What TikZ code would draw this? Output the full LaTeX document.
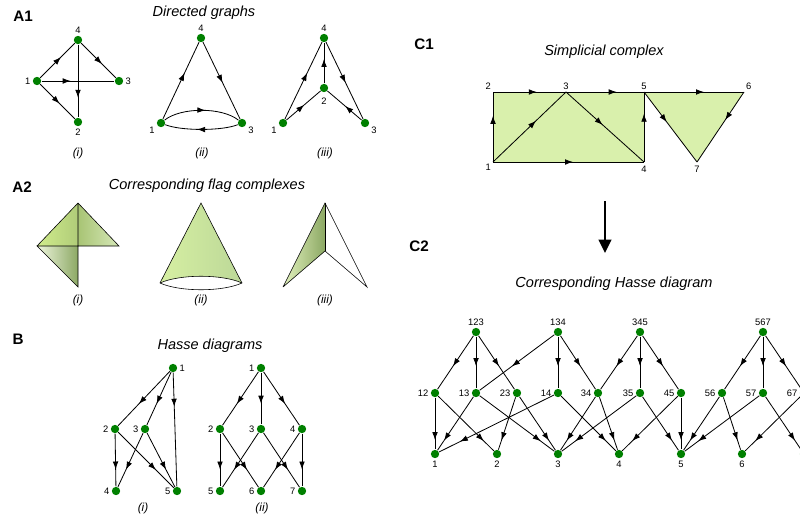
\documentclass[tikz,border=0pt]{standalone}
\usepackage{fontspec}
\setmainfont{Liberation Sans}
\usetikzlibrary{arrows.meta,decorations.markings}

\definecolor{dotgreen}{RGB}{0,128,0}
\definecolor{cplxfill}{RGB}{217,240,172}
\definecolor{flaglime}{RGB}{208,236,140}
\definecolor{flagmid}{RGB}{168,196,116}
\definecolor{flaglight}{RGB}{214,232,184}
\definecolor{flagpale}{RGB}{238,246,222}
\definecolor{flagdark}{RGB}{140,168,100}
\definecolor{conel}{RGB}{214,239,162}
\definecolor{conem}{RGB}{232,245,204}
\definecolor{coner}{RGB}{188,216,152}

\tikzset{
  vtx/.style={circle, fill=dotgreen, inner sep=0pt, minimum size=2.5mm},
  ar/.style={postaction={decorate}, decoration={markings,
      mark=at position #1 with {\arrow{Latex[length=2.4mm,width=1.7mm]}}}},
  ar/.default=0.6,
  heading/.style={font=\fontsize{12.4}{15}\selectfont\itshape},
  case/.style={font=\fontsize{10}{12}\selectfont\itshape},
  panel/.style={font=\fontsize{13}{15}\selectfont\bfseries},
  face/.style={line width=0.5pt},
}

\begin{document}
\begin{tikzpicture}[x=0.3mm, y=-0.3mm, line width=0.7pt,
    every label/.style={font=\fontsize{8}{9}\selectfont, inner sep=1.5pt}]
  \useasboundingbox (0,0) rectangle (800,517);
  \clip (0,0) rectangle (800,517);

  % panel letters
  \node[panel] (la1) at (23,16) {A1};
  \node[panel] (la2) at (22,187) {A2};
  \node[panel] (lb) at (18,339) {B};
  \node[panel] (lc1) at (424,44) {C1};
  \node[panel] (lc2) at (419,246) {C2};

  % directed graphs
  \node[heading] (hdg) at (204,13) {Directed graphs};

  \node[vtx, label=above:4] (p4) at (78,40) {};
  \node[vtx, label=left:1] (p1) at (37,81) {};
  \node[vtx, label=right:3] (p3) at (119,81) {};
  \node[vtx, label=below:2] (p2) at (78,122) {};
  \draw[ar] (p1) -- (p4);
  \draw[ar] (p4) -- (p3);
  \draw[ar=0.4] (p1) -- (p3);
  \draw[ar=0.73] (p4) -- (p2);
  \draw[ar=0.56] (p1) -- (p2);

  \node[vtx, label=above:4] (q4) at (201,38) {};
  \node[vtx, label=-160:1] (q1) at (161,123) {};
  \node[vtx, label=-20:3] (q3) at (242,123) {};
  \draw[ar] (q1) -- (q4);
  \draw[ar=0.53] (q4) -- (q3);
  \draw[ar=0.55] (q1) .. controls +(20,-16) and +(-20,-16) .. (q3);
  \draw[ar=0.56] (q3) .. controls +(-20,8) and +(20,8) .. (q1);

  \node[vtx, label=above:4] (r4) at (324,38) {};
  \node[vtx, label={[label distance=3pt]below:2}] (r2) at (324,88) {};
  \node[vtx, label=-160:1] (r1) at (283,123) {};
  \node[vtx, label=-20:3] (r3) at (365,123) {};
  \draw[ar] (r1) -- (r4);
  \draw[ar=0.53] (r4) -- (r3);
  \draw[ar] (r2) -- (r4);
  \draw[ar=0.52] (r1) -- (r2);
  \draw[ar=0.48] (r3) -- (r2);

  \node[case] (ca1) at (78,153) {(i)};
  \node[case] (ca2) at (202,153) {(ii)};
  \node[case] (ca3) at (325,153) {(iii)};

  % flag complexes
  \node[heading] (hfl) at (207,186) {Corresponding flag complexes};

  \coordinate (f1) at (37,246);
  \coordinate (f4) at (78,203);
  \coordinate (f3) at (119,246);
  \coordinate (f2) at (78,287);
  \coordinate (fm) at (78,246);
  \shade[left color=flagpale, right color=flagdark] (f1) -- (fm) -- (f2) -- cycle;
  \shade[left color=flaglime, right color=flagmid!80!flaglime] (f1) -- (f4) -- (fm) -- cycle;
  \shade[left color=flagmid, right color=flaglight] (f4) -- (f3) -- (fm) -- cycle;
  \draw[face] (f1) -- (f4) -- (f3) -- (f1) -- (f2) -- (f4);

  \coordinate (n4) at (201,203);
  \coordinate (n1) at (160,283);
  \coordinate (n3) at (242,283);
  \shade[left color=conel, middle color=conem, right color=coner]
    (n4) -- (n1) .. controls +(20,-9) and +(-20,-9) .. (n3) -- cycle;
  \draw[face] (n1) -- (n4) -- (n3);
  \draw[face] (n1) .. controls +(20,-9) and +(-20,-9) .. (n3);
  \draw[face] (n1) .. controls +(20,9) and +(-20,9) .. (n3);

  \coordinate (t4) at (325,203);
  \coordinate (t2) at (325,251);
  \coordinate (t1) at (283,287);
  \coordinate (t3) at (367,287);
  \shade[left color=flagpale!60!flaglime, right color=flagdark] (t4) -- (t2) -- (t1) -- cycle;
  \draw[face] (t1) -- (t4) -- (t3) -- (t2) -- (t1);
  \draw[face] (t4) -- (t2);

  \node[case] (cb1) at (78,300) {(i)};
  \node[case] (cb2) at (201,300) {(ii)};
  \node[case] (cb3) at (325,300) {(iii)};

  % Hasse diagrams
  \node[heading] (hhs) at (210,346) {Hasse diagrams};

  \node[vtx, label=right:1] (u1) at (173,368) {};
  \node[vtx, label=left:2] (u2) at (115,429) {};
  \node[vtx, label=left:3] (u3) at (145,429) {};
  \node[vtx, label=left:4] (u4) at (116,491) {};
  \node[vtx, label=left:5] (u5) at (177,491) {};
  \draw[ar] (u1) -- (u2);
  \draw[ar] (u1) -- (u3);
  \draw[ar=0.3] (u1) -- (u5);
  \draw[ar=0.68] (u2) -- (u4);
  \draw[ar=0.68] (u2) -- (u5);
  \draw[ar=0.68] (u3) -- (u4);
  \draw[ar=0.68] (u3) -- (u5);

  \node[vtx, label=left:1] (w1) at (261,368) {};
  \node[vtx, label=left:2] (w2) at (220,429) {};
  \node[vtx, label=left:3] (w3) at (261,429) {};
  \node[vtx, label=left:4] (w4) at (302,429) {};
  \node[vtx, label=left:5] (w5) at (220,491) {};
  \node[vtx, label=left:6] (w6) at (261,491) {};
  \node[vtx, label=left:7] (w7) at (302,491) {};
  \foreach \a/\b in {1/2,1/3,1/4}
    \draw[ar] (w\a) -- (w\b);
  \foreach \a/\b in {2/5,2/6,3/5,3/7,4/6,4/7}
    \draw[ar=0.68] (w\a) -- (w\b);

  \node[case] (cc1) at (143,508) {(i)};
  \node[case] (cc2) at (262,508) {(ii)};

  % simplicial complex
  \node[heading] (hsc) at (604,52) {Simplicial complex};

  \coordinate[label=below left:1] (s1) at (493,162);
  \coordinate[label=above left:2] (s2) at (493,92);
  \coordinate[label=above:3] (s3) at (566,92);
  \coordinate[label={[label distance=2pt]below:4}] (s4) at (644,162);
  \coordinate[label=above:5] (s5) at (644,92);
  \coordinate[label=above right:6] (s6) at (744,92);
  \coordinate[label={[label distance=2pt]below:7}] (s7) at (697,162);
  \fill[cplxfill] (s1) -- (s2) -- (s5) -- (s4) -- cycle;
  \fill[cplxfill] (s5) -- (s6) -- (s7) -- cycle;
  \draw[ar=0.66] (s1) -- (s2);
  \draw[ar] (s2) -- (s3);
  \draw[ar=0.65] (s3) -- (s5);
  \draw[ar=0.59] (s1) -- (s3);
  \draw[ar=0.47] (s3) -- (s4);
  \draw[ar=0.53] (s1) -- (s4);
  \draw[ar=0.69] (s4) -- (s5);
  \draw[ar] (s5) -- (s6);
  \draw[ar=0.43] (s5) -- (s7);
  \draw[ar=0.4] (s6) -- (s7);

  \coordinate (dn0) at (605,201);
  \coordinate (dn1) at (605,253);
  \draw[line width=1.6pt, -{Triangle[length=4mm,width=3.8mm]}] (dn0) -- (dn1);

  % face poset of the complex
  \node[heading] (hcs) at (614,284) {Corresponding Hasse diagram};

  \foreach \n/\x in {123/476,134/558,345/640,567/763}
    \node[vtx, label=above:\n] (f\n) at (\x,332) {};
  \foreach \n/\x in {12/435,13/476,23/517,14/558,34/598,35/640,45/681,56/722,57/763,67/804}
    \node[vtx, label=left:\n] (e\n) at (\x,393) {};
  \foreach \n/\x in {1/435,2/497,3/558,4/619,5/681,6/742}
    \node[vtx, label=below:\n] (v\n) at (\x,454) {};
  \node[vtx] (v7) at (804,454) {};

  \foreach \a/\b in {123/12,123/13,123/23,134/13,134/14,134/34,
                     345/34,345/35,345/45,567/56,567/57,567/67}
    \draw[ar=0.57] (f\a) -- (e\b);
  \foreach \a/\b in {12/1,12/2,13/1,13/3,23/2,23/3,14/1,14/4,34/3,34/4,
                     35/3,35/5,45/4,45/5,56/5,56/6,57/5,57/7,67/6,67/7}
    \draw[ar=0.82] (e\a) -- (v\b);
\end{tikzpicture}
\end{document}
